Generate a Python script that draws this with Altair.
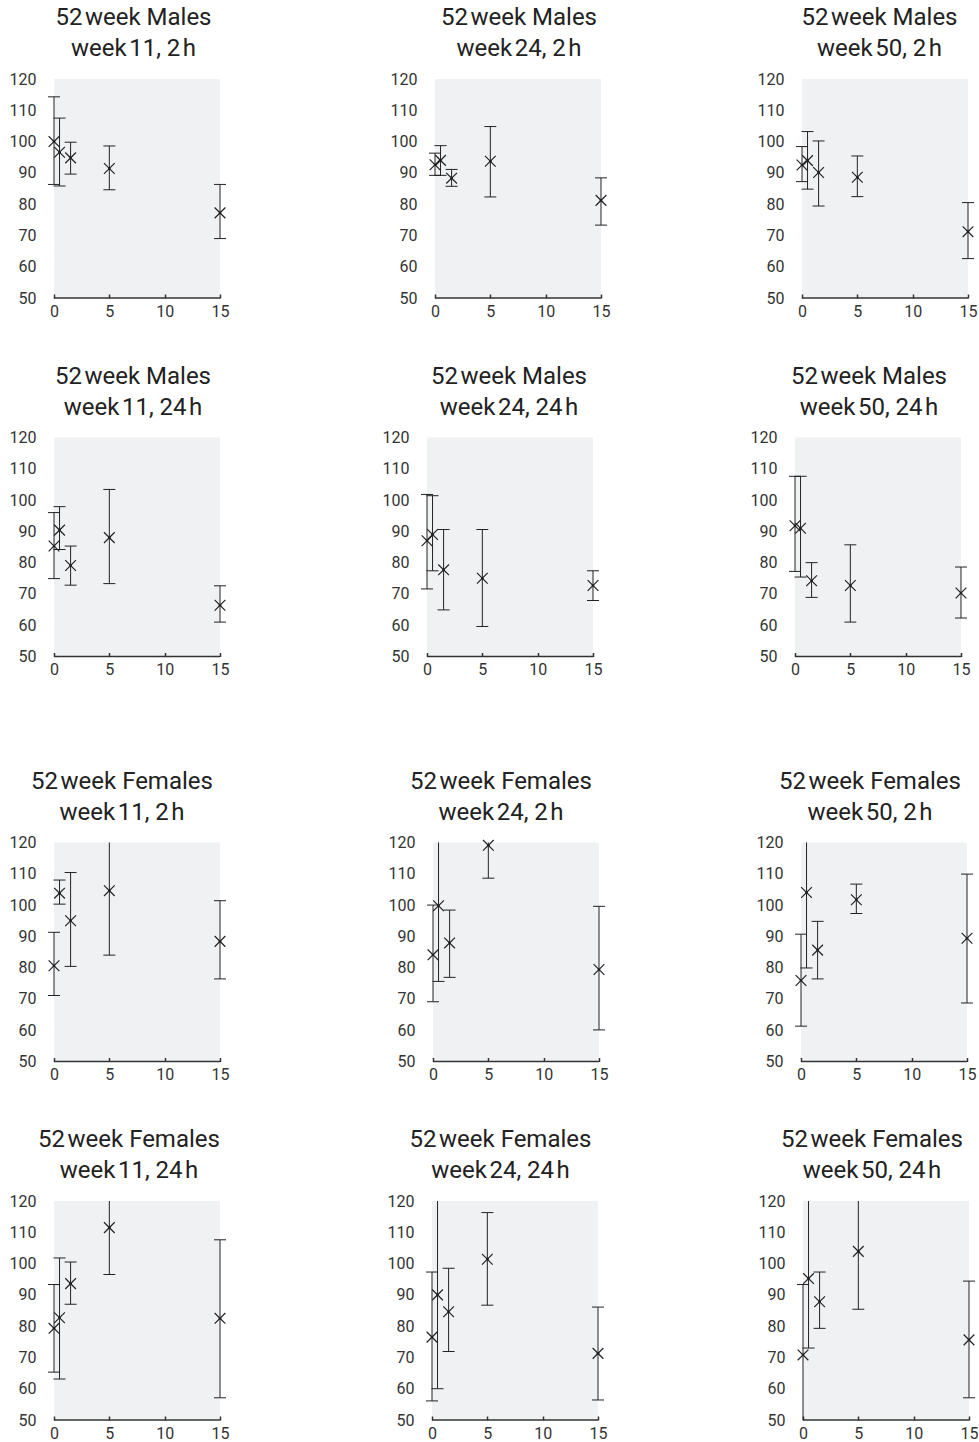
import altair as alt
import pandas as pd

# ---------------- data ----------------
DOSES = [0, 0.5, 1.5, 5, 15]
X_TICKS = [0, 5, 10, 15]
Y_TICKS = [50, 60, 70, 80, 90, 100, 110, 120]

ROW_SEX = ["Males", "Males", "Females", "Females"]
ROW_HOUR = ["2", "24", "2", "24"]
COL_WEEK = ["11", "24", "50"]

# Males, 2 h
M11_2_MEAN = [100.0, 96.6, 94.8, 91.4, 77.2]
M11_2_LO = [86.3, 85.8, 89.6, 84.6, 69.0]
M11_2_HI = [114.3, 107.5, 99.8, 98.6, 86.3]
M24_2_MEAN = [92.6, 94.0, 88.3, 93.7, 81.2]
M24_2_LO = [89.2, 89.2, 85.7, 82.3, 73.3]
M24_2_HI = [96.3, 98.7, 91.1, 104.8, 88.4]
M50_2_MEAN = [92.5, 93.9, 90.1, 88.6, 71.2]
M50_2_LO = [87.2, 84.8, 79.4, 82.4, 62.6]
M50_2_HI = [98.4, 103.2, 100.2, 95.4, 80.5]
# Males, 24 h
M11_24_MEAN = [85.3, 90.4, 79.1, 88.0, 66.4]
M11_24_LO = [74.9, 84.2, 72.8, 73.3, 61.0]
M11_24_HI = [96.0, 97.9, 85.3, 103.4, 72.6]
M24_24_MEAN = [87.0, 89.0, 77.7, 75.0, 72.7]
M24_24_LO = [71.6, 77.4, 64.9, 59.6, 67.9]
M24_24_HI = [101.8, 101.4, 90.6, 90.6, 77.4]
M50_24_MEAN = [91.8, 91.0, 74.2, 72.7, 70.3]
M50_24_LO = [77.2, 75.4, 68.9, 61.0, 62.3]
M50_24_HI = [107.6, 107.6, 80.0, 85.7, 78.6]
# Females, 2 h
F11_2_MEAN = [80.6, 103.8, 95.0, 104.6, 88.4]
F11_2_LO = [71.1, 100.3, 80.4, 84.0, 76.4]
F11_2_HI = [91.3, 108.0, 110.4, 125.0, 101.4]
F24_2_MEAN = [84.1, 99.8, 87.9, 119.1, 79.4]
F24_2_LO = [69.1, 75.6, 76.9, 108.6, 60.1]
F24_2_HI = [100.0, 124.0, 98.4, 129.0, 99.6]
F50_2_MEAN = [75.9, 104.0, 85.6, 101.7, 89.4]
F50_2_LO = [61.3, 79.9, 76.4, 97.3, 68.7]
F50_2_HI = [90.7, 128.0, 94.8, 106.7, 109.9]
# Females, 24 h
F11_24_MEAN = [79.3, 82.7, 93.6, 111.5, 82.5]
F11_24_LO = [65.3, 63.1, 87.0, 96.5, 57.1]
F11_24_HI = [93.3, 101.8, 100.5, 126.0, 107.6]
F24_24_MEAN = [76.5, 90.0, 84.6, 101.4, 71.3]
F24_24_LO = [56.1, 60.0, 71.9, 86.7, 56.4]
F24_24_HI = [97.3, 124.0, 98.5, 116.3, 86.1]
F50_24_MEAN = [70.8, 95.2, 87.8, 103.9, 75.6]
F50_24_LO = [48.0, 73.0, 79.3, 85.4, 57.1]
F50_24_HI = [93.3, 124.0, 97.3, 123.0, 94.4]

PANELS = [
    [(M11_2_MEAN, M11_2_LO, M11_2_HI), (M24_2_MEAN, M24_2_LO, M24_2_HI), (M50_2_MEAN, M50_2_LO, M50_2_HI)],
    [(M11_24_MEAN, M11_24_LO, M11_24_HI), (M24_24_MEAN, M24_24_LO, M24_24_HI), (M50_24_MEAN, M50_24_LO, M50_24_HI)],
    [(F11_2_MEAN, F11_2_LO, F11_2_HI), (F24_2_MEAN, F24_2_LO, F24_2_HI), (F50_2_MEAN, F50_2_LO, F50_2_HI)],
    [(F11_24_MEAN, F11_24_LO, F11_24_HI), (F24_24_MEAN, F24_24_LO, F24_24_HI), (F50_24_MEAN, F50_24_LO, F50_24_HI)],
]

# ---------------- style / layout ----------------
INK = "#222222"
FONT = "Roboto"
W, H = 166, 219
H_SPACING = 100
Y_EXTENTS = [[46, 106, 92], [46, 98, 93], [46, 104, 93], [46, 103, 96]]
TITLE_DX = [[-3.5, 1, -5.5], [-4, -1, -9], [-15, -15, -14], [-8, -14.5, -14]]
X_PATH = "M-1,-1L1,1M-1,1L1,-1"
THIN = "\u200a"


def panel(r, c):
    means, los, his = PANELS[r][c]
    df = pd.DataFrame({"dose": DOSES, "mean": means, "lo": los, "hi": his})
    ymin, ymax = Y_TICKS[0], Y_TICKS[-1]
    xscale = alt.Scale(domain=[X_TICKS[0], X_TICKS[-1]], nice=False, zero=False)
    yscale = alt.Scale(domain=[ymin, ymax], nice=False, zero=False, clamp=True)
    xaxis = alt.Axis(values=X_TICKS, tickCount=len(X_TICKS), domain=False, ticks=True,
                     tickSize=4, tickWidth=1.5, tickColor="#333333", offset=-4,
                     labelPadding=5, labelFontSize=16, labelColor="#333333", grid=False,
                     title=None, labelFlush=False, labelOverlap=False, labelFont=FONT)
    yaxis = alt.Axis(values=Y_TICKS, tickCount=len(Y_TICKS), domain=False, ticks=False,
                     labelPadding=18, labelFontSize=16, labelColor="#333333", grid=False,
                     title=None, labelFlush=False, labelOverlap=False,
                     minExtent=Y_EXTENTS[r][c], maxExtent=Y_EXTENTS[r][c],
                     labelFont=FONT)
    base = alt.Chart(df)
    bars = base.mark_rule(color=INK, strokeWidth=1).encode(
        x=alt.X("dose:Q", scale=xscale, axis=xaxis),
        y=alt.Y("lo:Q", scale=yscale, axis=yaxis),
        y2="hi:Q",
    )
    cap_lo = base.transform_filter(
        (alt.datum.lo >= ymin) & (alt.datum.lo <= ymax)
    ).mark_tick(orient="horizontal", size=12, thickness=1, color=INK, opacity=1).encode(
        x="dose:Q", y="lo:Q")
    cap_hi = base.transform_filter(
        (alt.datum.hi >= ymin) & (alt.datum.hi <= ymax)
    ).mark_tick(orient="horizontal", size=12, thickness=1, color=INK, opacity=1).encode(
        x="dose:Q", y="hi:Q")
    pts = base.mark_point(shape=X_PATH, size=115, filled=False, color=INK,
                          strokeWidth=1.2, opacity=1).encode(x="dose:Q", y="mean:Q")
    dots = base.mark_circle(size=7, color=INK, opacity=1).encode(x="dose:Q", y="mean:Q")
    dom_df = pd.DataFrame({"x0": [X_TICKS[0]], "x1": [X_TICKS[-1]], "y0": [ymin]})
    domain = alt.Chart(dom_df).mark_rule(color="#333333", strokeWidth=1.5).encode(
        x="x0:Q", x2="x1:Q", y="y0:Q")
    title = alt.TitleParams(
        text=[f"52{THIN}week {ROW_SEX[r]}", f"week{THIN}{COL_WEEK[c]}, {ROW_HOUR[r]}{THIN}h"],
        fontSize=24, fontWeight="normal", font=FONT, color=INK, anchor="middle",
        frame="group", dx=TITLE_DX[r][c], offset=10, lineHeight=31,
    )
    return alt.layer(bars, cap_lo, cap_hi, domain, pts, dots).properties(
        width=W, height=H, title=title)


rows = [alt.hconcat(*[panel(r, c) for c in range(3)], spacing=H_SPACING) for r in range(4)]
males = alt.vconcat(rows[0], rows[1], spacing=45.5)
females = alt.vconcat(rows[2], rows[3], spacing=45.5)
chart = alt.vconcat(males, females, spacing=91.5).properties(
    padding={"left": 8, "top": 6, "right": 0, "bottom": 0},
).configure(font=FONT).configure_axis(
    labelOverlap=False, labelFlush=False
).configure_view(fill="#f0f1f3", strokeWidth=0)

chart.save("out.html", embed_options={"renderer": "svg", "actions": False})
